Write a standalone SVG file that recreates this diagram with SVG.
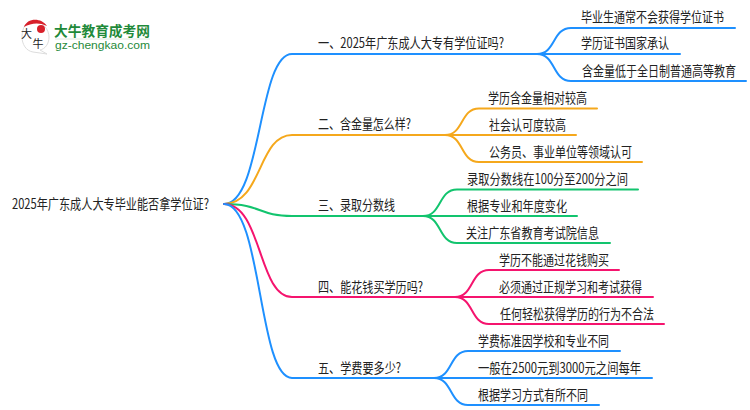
<svg xmlns="http://www.w3.org/2000/svg" width="750" height="410" viewBox="0 0 750 410">
<style>
text{font-family:"Noto Sans CJK SC","Liberation Sans",sans-serif;font-size:14px;fill:#222}
.c{fill:none;stroke-width:2;stroke-linecap:round}
.b{stroke:#1e90ff}.o{stroke:#f5a81c}.g{stroke:#12c46e}.p{stroke:#f5146e}
</style>
<rect width="750" height="410" fill="#fff"/>
<g id="logo">
<path d="M33 21C43 21 49 30 49 37C49 44 45 49 40 50L47 54L33 52C26 51 22 44 22 37C22 28 26 21 33 21Z" fill="#fff" stroke="#ddd"/>
<path d="M24 27C27 18 41 17 47 26C39 22 31 23 24 27Z" fill="#d8202a"/>
<circle cx="41" cy="29" r="4" fill="#d8202a"/>
<text x="21" y="38" style="font-size:11px">大</text>
<text x="32.500" y="48" style="font-size:11px">牛</text>
<text x="54" y="36" textLength="96" lengthAdjust="spacingAndGlyphs" style="font-weight:700;fill:#1f8a3a">大牛教育成考网</text>
<line x1="55" y1="39" x2="150" y2="39" stroke="#dfe8e0"/>
<text x="55" y="48.500" textLength="95" lengthAdjust="spacingAndGlyphs" style="font-family:'Liberation Sans',sans-serif;font-size:11px;fill:#1f8a3a">gz-chengkao.com</text>
</g>
<g id="connectors">
<path class="c b" d="M224 204C262 204 258 54 292 54H537"/>
<path class="c o" d="M224 204C262 204 258 135 292 135H445"/>
<path class="c g" d="M224 204C262 204 258 216 292 216H423"/>
<path class="c p" d="M224 204C262 204 258 297 292 297H455"/>
<path class="c b" d="M224 204C262 204 258 378 292 378H434"/>
<path class="c b" d="M537 54C556 54 552 28 571 28H735"/>
<path class="c b" d="M537 54H680"/>
<path class="c b" d="M537 54C556 54 552 81 571 81H746"/>
<path class="c o" d="M445 135C464 135 460 108.500 479 108.500H597"/>
<path class="c o" d="M445 135H576"/>
<path class="c o" d="M445 135C464 135 460 162 479 162H642"/>
<path class="c g" d="M423 216C442 216 438 189.500 457 189.500H638"/>
<path class="c g" d="M423 216H577"/>
<path class="c g" d="M423 216C442 216 438 243 457 243H610"/>
<path class="c p" d="M455 297C474 297 470 270 489 270H619"/>
<path class="c p" d="M455 297H653"/>
<path class="c p" d="M455 297C474 297 470 324 489 324H664"/>
<path class="c b" d="M434 378C453 378 449 351 468 351H620"/>
<path class="c b" d="M434 378H652"/>
<path class="c b" d="M434 378C453 378 449 405 468 405H599"/>
</g>
<g id="root"><text x="12" y="209" textLength="197" lengthAdjust="spacingAndGlyphs">2025年广东成人大专毕业能否拿学位证?</text></g>
<g id="n1"><text x="318" y="48" textLength="186" lengthAdjust="spacingAndGlyphs">一、2025年广东成人大专有学位证吗?</text></g>
<g id="n1a"><text transform="translate(581 22) scale(.786 1)">毕业生通常不会获得学位证书</text></g>
<g id="n1b"><text x="581" y="48" textLength="88" lengthAdjust="spacingAndGlyphs">学历证书国家承认</text></g>
<g id="n1c"><text transform="translate(582 76) scale(.786 1)">含金量低于全日制普通高等教育</text></g>
<g id="n2"><text x="318" y="129" textLength="93" lengthAdjust="spacingAndGlyphs">二、含金量怎么样?</text></g>
<g id="n2a"><text x="488" y="103" textLength="99" lengthAdjust="spacingAndGlyphs">学历含金量相对较高</text></g>
<g id="n2b"><text x="489" y="130" textLength="77" lengthAdjust="spacingAndGlyphs">社会认可度较高</text></g>
<g id="n2c"><text x="489" y="157" textLength="143" lengthAdjust="spacingAndGlyphs">公务员、事业单位等领域认可</text></g>
<g id="n3"><text x="318" y="210" textLength="77" lengthAdjust="spacingAndGlyphs">三、录取分数线</text></g>
<g id="n3a"><text x="467" y="184" textLength="161" lengthAdjust="spacingAndGlyphs">录取分数线在100分至200分之间</text></g>
<g id="n3b"><text x="467" y="211" textLength="100" lengthAdjust="spacingAndGlyphs">根据专业和年度变化</text></g>
<g id="n3c"><text x="466" y="238" textLength="133" lengthAdjust="spacingAndGlyphs">关注广东省教育考试院信息</text></g>
<g id="n4"><text x="318" y="292" textLength="105" lengthAdjust="spacingAndGlyphs">四、能花钱买学历吗?</text></g>
<g id="n4a"><text x="499" y="265" textLength="110" lengthAdjust="spacingAndGlyphs">学历不能通过花钱购买</text></g>
<g id="n4b"><text x="499" y="292" textLength="143" lengthAdjust="spacingAndGlyphs">必须通过正规学习和考试获得</text></g>
<g id="n4c"><text x="500" y="319" textLength="154" lengthAdjust="spacingAndGlyphs">任何轻松获得学历的行为不合法</text></g>
<g id="n5"><text x="318" y="373" textLength="83" lengthAdjust="spacingAndGlyphs">五、学费要多少?</text></g>
<g id="n5a"><text x="478" y="346" textLength="131" lengthAdjust="spacingAndGlyphs">学费标准因学校和专业不同</text></g>
<g id="n5b"><text x="478" y="373" textLength="163" lengthAdjust="spacingAndGlyphs">一般在2500元到3000元之间每年</text></g>
<g id="n5c"><text x="478" y="400" textLength="110" lengthAdjust="spacingAndGlyphs">根据学习方式有所不同</text></g>
</svg>
